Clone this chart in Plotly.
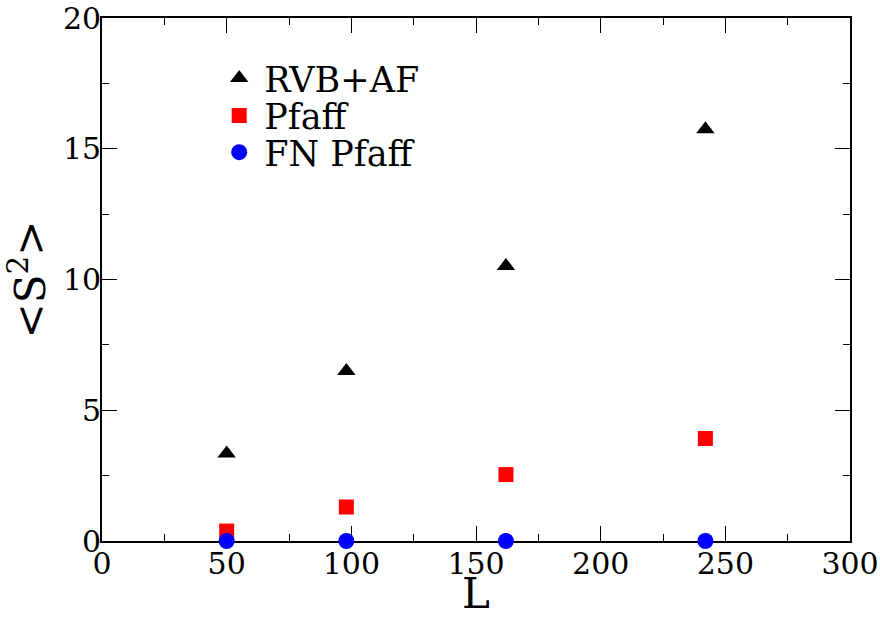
import plotly.graph_objects as go

L_vals = [50, 98, 162, 242]
rvb_af = [3.35, 6.5, 10.52, 15.75]
pfaff = [0.38, 1.3, 2.54, 3.92]
fn_pfaff = [0.0, 0.0, 0.0, 0.0]

series_names = ["RVB+AF", "Pfaff", "FN Pfaff"]
x_ticks = [0, 50, 100, 150, 200, 250, 300]
y_ticks = [0, 5, 10, 15, 20]

FONT = "DejaVu Serif"

fig = go.Figure()
fig.add_trace(go.Scatter(x=L_vals, y=rvb_af, mode="markers", name=series_names[0],
                         marker=dict(symbol="triangle-up", size=16, color="black"),
                         cliponaxis=False, legend="legend"))
fig.add_trace(go.Scatter(x=L_vals, y=pfaff, mode="markers", name=series_names[1],
                         marker=dict(symbol="square", size=15, color="#ff0000"),
                         cliponaxis=False, legend="legend2"))
fig.add_trace(go.Scatter(x=L_vals, y=fn_pfaff, mode="markers", name=series_names[2],
                         marker=dict(symbol="circle", size=16, color="#0000ff"),
                         cliponaxis=False, legend="legend3"))

axis_common = dict(
    showgrid=False, zeroline=False, showline=True, linecolor="black", linewidth=1.6,
    mirror="allticks", ticks="inside", ticklen=15, tickwidth=1.2, tickcolor="black",
    tickfont=dict(family=FONT, size=30, color="black"),
    layer="below traces", automargin=False, ticklabeloverflow="allow",
)

fig.update_xaxes(range=[0, 300], tickvals=x_ticks, ticktext=[str(v) for v in x_ticks],
                 ticklabelstandoff=-5,
                 minor=dict(dtick=25, tick0=0, ticks="inside", ticklen=7, tickwidth=1.2, tickcolor="black"),
                 title=dict(text="L", font=dict(family=FONT, size=42, color="black"), standoff=0),
                 **axis_common)
fig.update_yaxes(range=[0, 20], tickvals=y_ticks, ticktext=[str(v) for v in y_ticks],
                 ticklabelstandoff=-7,
                 minor=dict(dtick=2.5, tick0=0, ticks="inside", ticklen=7, tickwidth=1.2, tickcolor="black"),
                 title=dict(text="&lt;S<sup>2</sup>&gt;", font=dict(family=FONT, size=42, color="black"), standoff=4),
                 **axis_common)

leg = dict(font=dict(family=FONT, size=35, color="black"), bgcolor="rgba(0,0,0,0)",
           borderwidth=0, xanchor="left", yanchor="middle", x=0.15, itemwidth=40)
fig.update_layout(
    width=880, height=618,
    margin=dict(l=102, r=30, t=18, b=77),
    paper_bgcolor="white", plot_bgcolor="white",
    showlegend=True,
    legend=dict(y=0.885, **leg),
    legend2=dict(y=0.813, **leg),
    legend3=dict(y=0.743, **leg),
)

fig.write_html("out.html")
